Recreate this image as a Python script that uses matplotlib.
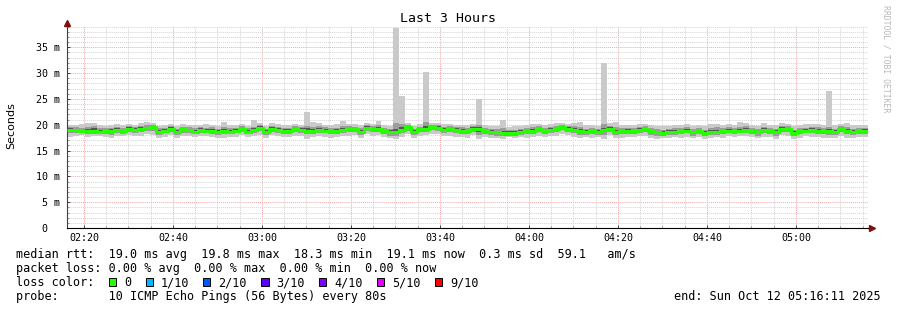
import matplotlib
matplotlib.use("Agg")
import matplotlib.pyplot as plt
import matplotlib.dates as mdates
import matplotlib.ticker as mticker
from matplotlib.patches import Rectangle
import numpy as np
import pandas as pd

# ---------------- data (milliseconds) ----------------
start_time = "2025-10-12 02:16:11"
step_seconds = 80

med = [19.0,19.0,18.7,18.85,18.7,18.6,18.7,18.7,18.9,18.7,
       19.2,19.0,19.2,19.4,19.5,18.6,18.85,19.25,18.6,19.1,
       18.9,18.6,19.0,18.85,18.85,18.6,18.7,18.6,18.85,19.1,
       18.6,19.0,19.4,18.5,19.25,19.0,18.85,18.85,19.1,19.0,
       18.85,18.85,19.0,18.85,18.7,18.85,18.9,19.1,19.1,18.6,
       19.4,19.1,19.25,18.7,18.5,18.6,19.0,19.5,18.6,19.1,
       19.25,19.5,19.4,19.0,19.1,19.0,18.85,18.7,19.25,19.1,
       18.7,18.6,18.5,18.35,18.3,18.35,18.6,18.7,18.85,19.1,
       18.7,19.0,19.1,19.5,19.25,19.0,18.7,18.6,18.7,18.6,
       18.9,19.25,18.6,18.7,18.85,18.7,19.0,19.1,18.7,18.5,
       18.35,18.6,18.6,18.7,18.85,18.5,18.7,18.35,18.6,18.6,
       18.7,18.85,18.7,18.85,19.0,18.7,18.5,19.0,18.7,18.6,
       19.25,19.1,18.35,18.7,18.85,19.0,18.85,18.7,18.7,18.6,
       19.1,18.7,18.6,18.7,18.85]

hi1 = [20.0,19.9,20.1,20.3,20.4,20.0,19.8,19.9,20.2,19.9,
       20.1,20.0,20.3,20.5,20.4,19.8,19.9,20.2,19.8,20.1,
       20.0,19.9,20.0,20.1,20.0,19.8,20.6,19.9,20.0,20.2,
       19.8,20.9,20.4,19.8,20.3,20.1,20.0,19.9,20.2,20.0,
       22.5,20.6,20.3,20.0,19.9,20.1,20.8,20.2,20.1,19.9,
       20.4,20.2,20.7,19.9,19.8,38.7,25.6,20.4,19.8,20.2,
       30.1,20.4,20.3,20.2,20.1,20.0,20.0,19.9,20.2,25.0,
       19.9,19.8,19.7,20.9,19.6,19.7,19.8,19.9,20.1,20.2,
       20.0,20.1,20.3,20.4,20.2,20.3,20.5,19.9,19.9,19.8,
       32.0,20.3,20.5,19.9,20.0,19.9,20.2,20.2,19.9,19.8,
       19.7,19.8,19.9,20.0,20.1,19.8,20.0,19.7,20.1,20.2,
       19.9,20.1,19.9,20.6,20.4,20.0,19.8,20.4,20.0,19.9,
       20.3,20.2,19.7,20.0,20.1,20.2,20.1,19.9,26.6,19.9,
       20.2,20.4,20.0,19.9,20.0]

lo1 = [17.6,17.9,18.0,17.7,17.8,17.9,17.6,17.5,17.9,17.8,
       18.0,17.8,17.9,18.1,18.0,17.4,17.7,18.0,17.5,17.9,
       17.8,17.6,17.9,17.8,17.7,17.4,17.5,17.6,17.7,18.0,
       17.6,17.9,18.0,17.4,18.0,17.8,17.7,17.6,17.8,17.9,
       17.3,17.6,17.8,17.7,17.5,17.7,17.8,17.9,18.0,17.5,
       18.1,17.9,18.0,17.6,17.4,17.3,17.6,18.1,17.5,17.9,
       18.0,18.2,18.1,17.8,17.9,17.7,17.6,17.5,18.0,17.2,
       17.6,17.4,17.5,17.3,17.6,17.5,17.6,17.5,17.7,17.9,
       17.6,17.9,17.8,18.2,18.0,17.7,17.5,17.6,17.5,17.6,
       17.3,18.0,17.5,17.4,17.7,17.6,17.9,17.8,17.4,17.3,
       17.4,17.5,17.6,17.5,17.7,17.4,17.6,17.3,17.5,17.6,
       17.5,17.8,17.6,17.8,17.9,17.6,17.5,17.7,17.6,17.3,
       18.0,17.9,17.2,17.5,17.8,17.7,17.6,17.4,17.5,17.5,
       17.9,17.5,17.4,17.6,17.6]

hi2 = [19.6,19.5,19.4,19.6,19.8,19.3,19.3,19.4,19.6,19.3,
       19.7,19.5,19.8,19.9,20.0,19.3,19.4,19.8,19.2,19.6,
       19.5,19.3,19.5,19.4,19.5,19.2,19.6,19.3,19.4,19.7,
       19.3,19.6,20.0,19.2,19.8,19.5,19.4,19.4,19.7,19.5,
       19.8,19.6,19.7,19.5,19.3,19.4,19.7,19.7,19.6,19.3,
       19.9,19.7,19.9,19.3,19.2,20.3,20.1,20.0,19.2,19.6,
       20.5,20.0,19.9,19.6,19.7,19.5,19.5,19.3,19.8,19.9,
       19.3,19.2,19.1,19.3,19.0,19.0,19.2,19.3,19.5,19.7,
       19.3,19.6,19.7,20.0,19.8,19.7,19.6,19.2,19.3,19.2,
       20.1,19.8,19.6,19.3,19.4,19.3,19.6,19.7,19.3,19.1,
       19.0,19.2,19.3,19.4,19.5,19.1,19.4,19.0,19.3,19.5,
       19.3,19.5,19.3,19.6,19.7,19.4,19.1,19.6,19.3,19.2,
       19.8,19.7,19.0,19.3,19.4,19.6,19.5,19.3,19.6,19.2,
       19.7,19.5,19.2,19.3,19.4]

lo2 = [18.3,18.4,18.3,18.2,18.1,18.2,18.2,18.0,18.4,18.2,
       18.6,18.4,18.5,18.7,18.8,18.0,18.3,18.6,18.0,18.4,
       18.3,18.1,18.4,18.3,18.2,18.0,18.1,18.1,18.3,18.5,
       18.1,18.4,18.7,18.0,18.6,18.4,18.2,18.2,18.5,18.4,
       18.1,18.2,18.4,18.3,18.1,18.2,18.3,18.5,18.5,18.0,
       18.8,18.5,18.6,18.1,17.9,17.9,18.3,18.8,18.0,18.5,
       18.6,18.9,18.8,18.4,18.5,18.4,18.2,18.1,18.6,18.0,
       18.1,18.0,17.9,17.8,17.8,17.8,18.0,18.1,18.2,18.5,
       18.1,18.4,18.5,18.9,18.6,18.4,18.0,18.0,18.1,18.0,
       18.0,18.6,18.0,18.1,18.2,18.1,18.4,18.5,18.0,17.9,
       17.8,18.0,18.0,18.1,18.3,17.9,18.1,17.8,18.0,18.0,
       18.1,18.3,18.1,18.3,18.4,18.1,17.9,18.4,18.1,17.9,
       18.6,18.5,17.8,18.1,18.3,18.4,18.2,18.1,18.0,18.0,
       18.5,18.1,18.0,18.1,18.2]

hi3 = [19.3,19.2,19.0,19.2,19.3,19.0,19.0,19.1,19.3,19.0,
       19.5,19.3,19.5,19.6,19.7,19.0,19.2,19.5,18.9,19.4,
       19.2,19.0,19.3,19.2,19.2,18.9,19.1,19.0,19.2,19.4,
       19.0,19.3,19.7,18.9,19.5,19.3,19.2,19.2,19.4,19.3,
       19.3,19.2,19.4,19.2,19.0,19.2,19.3,19.4,19.4,19.0,
       19.7,19.4,19.6,19.0,18.9,19.2,19.5,19.8,18.9,19.4,
       19.7,19.8,19.7,19.3,19.4,19.3,19.2,19.0,19.6,19.5,
       19.0,18.9,18.8,18.8,18.7,18.7,18.9,19.0,19.2,19.4,
       19.0,19.3,19.4,19.8,19.5,19.4,19.1,18.9,19.0,18.9,
       19.4,19.6,19.0,19.0,19.2,19.0,19.3,19.4,19.0,18.8,
       18.7,18.9,18.9,19.0,19.2,18.8,19.0,18.7,18.9,19.0,
       19.0,19.2,19.0,19.2,19.3,19.0,18.8,19.3,19.0,18.9,
       19.6,19.4,18.7,19.0,19.2,19.3,19.2,19.0,19.1,18.9,
       19.4,19.1,18.9,19.0,19.2]

lo3 = [18.6,18.7,18.5,18.5,18.4,18.4,18.4,18.3,18.6,18.4,
       18.9,18.7,18.9,19.0,19.1,18.3,18.6,18.9,18.3,18.8,
       18.6,18.4,18.7,18.6,18.5,18.3,18.4,18.3,18.6,18.8,
       18.4,18.7,19.0,18.2,18.9,18.7,18.5,18.5,18.8,18.7,
       18.5,18.5,18.7,18.6,18.4,18.5,18.6,18.8,18.8,18.3,
       19.1,18.8,18.9,18.4,18.2,18.3,18.7,19.2,18.3,18.8,
       18.9,19.2,19.1,18.7,18.8,18.7,18.5,18.4,18.9,18.6,
       18.4,18.3,18.2,18.0,18.0,18.0,18.3,18.4,18.5,18.8,
       18.4,18.7,18.8,19.2,18.9,18.7,18.4,18.3,18.4,18.3,
       18.5,18.9,18.3,18.4,18.5,18.4,18.7,18.8,18.4,18.2,
       18.0,18.3,18.3,18.4,18.5,18.2,18.4,18.1,18.3,18.3,
       18.4,18.5,18.4,18.5,18.7,18.4,18.2,18.7,18.4,18.3,
       18.9,18.8,18.0,18.4,18.5,18.7,18.5,18.4,18.4,18.3,
       18.8,18.4,18.3,18.4,18.5]

ytick_values = [0, 5, 10, 15, 20, 25, 30, 35]
ytick_labels = ["0  ", "5 m", "10 m", "15 m", "20 m", "25 m", "30 m", "35 m"]

title = "Last 3 Hours"
ylabel = "Seconds"
watermark = "RRDTOOL / TOBI OETIKER"
line_rtt = "median rtt:  19.0 ms avg  19.8 ms max  18.3 ms min  19.1 ms now  0.3 ms sd  59.1   am/s"
line_loss = "packet loss: 0.00 % avg  0.00 % max  0.00 % min  0.00 % now"
line_color_head = "loss color:"
loss_labels = ["0", "1/10", "2/10", "3/10", "4/10", "5/10", "9/10"]
loss_colors = ["#26ff00", "#00b8ff", "#0059ff", "#5e00ff", "#7e00ff", "#dd00ff", "#ff0000"]
line_probe = "probe:       10 ICMP Echo Pings (56 Bytes) every 80s"
line_end = "end: Sun Oct 12 05:16:11 2025"

# ---------------- figure ----------------
W, H = 897, 310
fig = plt.figure(figsize=(W / 100, H / 100), dpi=100)
fig.patch.set_facecolor("white")

def fx(px):
    return px / W

def fy(py):
    return 1 - py / H

L, R, T, B = 67, 868, 26, 228
ax = fig.add_axes([fx(L), fy(B), (R - L) / W, (B - T) / H])
ax.set_facecolor("white")

n = len(med)
edges_dt = pd.date_range(start_time, periods=n + 1, freq=f"{step_seconds}s")
edges = mdates.date2num(edges_dt.to_pydatetime())

ax.stairs(hi1, edges, baseline=lo1, fill=True, color="#cacaca", lw=0, zorder=1)
ax.stairs(hi2, edges, baseline=lo2, fill=True, color="#9c9c9c", lw=0, zorder=1.1)
ax.stairs(hi3, edges, baseline=lo3, fill=True, color="#555555", lw=0, zorder=1.2)
ax.stairs(med, edges, baseline=None, color=loss_colors[0], lw=2.2, zorder=3)

ax.set_xlim(edges[0], edges[-1])
ax.set_ylim(0, 39.1)

ax.xaxis.set_major_locator(mdates.MinuteLocator(byminute=[0, 20, 40]))
ax.xaxis.set_minor_locator(mdates.MinuteLocator(byminute=range(0, 60, 5)))
ax.xaxis.set_major_formatter(mdates.DateFormatter("%H:%M"))
ax.set_yticks(ytick_values)
ax.set_yticklabels(ytick_labels)
ax.yaxis.set_minor_locator(mticker.MultipleLocator(1))

ax.set_axisbelow(True)
ax.grid(which="minor", color="#d4d4d4", linestyle=(0, (1, 1)), linewidth=0.7)
ax.grid(which="major", color="#f2a8a8", linestyle=(0, (1, 1)), linewidth=0.7)

mono = "DejaVu Sans Mono"
ax.tick_params(axis="both", which="major", direction="in", length=2.5, width=0.7,
               color="#404040", labelsize=7.2)
ax.tick_params(axis="both", which="minor", direction="in", length=1.5, width=0.6,
               color="#808080")
ax.tick_params(axis="x", which="major", pad=3.5)
ax.tick_params(axis="y", which="major", pad=5)
for lab in ax.get_xticklabels() + ax.get_yticklabels():
    lab.set_fontfamily(mono)

for s in ["top", "right"]:
    ax.spines[s].set_visible(False)
ax.spines["left"].set_color("#404040")
ax.spines["left"].set_linewidth(0.8)
ax.spines["bottom"].set_color("#000000")
ax.spines["bottom"].set_linewidth(0.8)

# axis arrows
ax.plot([0], [1 + 3.5 / (B - T)], marker="^", color="#7f1010", ms=4,
        transform=ax.transAxes, clip_on=False, zorder=6)
ax.plot([0, 0], [1, 1 + 2 / (B - T)], color="#404040", lw=0.8,
        transform=ax.transAxes, clip_on=False)
ax.plot([1 + 4 / (R - L)], [0], marker=">", color="#7f1010", ms=4,
        transform=ax.transAxes, clip_on=False, zorder=6)
ax.plot([1, 1 + 2 / (R - L)], [0, 0], color="#000000", lw=0.8,
        transform=ax.transAxes, clip_on=False)

# texts
fig.text(fx(448), fy(19), title, ha="center", va="center", fontsize=9.5,
         family=mono, color="black")
fig.text(fx(11), fy(126), ylabel, ha="center", va="center", rotation=90,
         fontsize=8, family="DejaVu Sans", color="black")
fig.text(fx(886), fy(5), watermark, ha="center", va="top", rotation=270,
         fontsize=5.9, family=mono, color="#b8b8b8")

fs = 8.45
fig.text(fx(16), fy(258.3), line_rtt, ha="left", va="baseline", fontsize=fs, family=mono)
fig.text(fx(16), fy(272.3), line_loss, ha="left", va="baseline", fontsize=fs, family=mono)
fig.text(fx(16), fy(286.2), line_color_head, ha="left", va="baseline", fontsize=fs, family=mono)
box_x = [108.7, 145.7, 203.0, 261.3, 319.0, 377.0, 435.0]
for bx, lab, col in zip(box_x, loss_labels, loss_colors):
    fig.add_artist(Rectangle((fx(bx), fy(285.7)), 7.3 / W, 8 / H,
                             transform=fig.transFigure, facecolor=col,
                             edgecolor="black", linewidth=0.7))
    fig.text(fx(bx + 15.3), fy(286.2), lab, ha="left", va="baseline",
             fontsize=fs, family=mono)
fig.text(fx(16), fy(300.2), line_probe, ha="left", va="baseline", fontsize=fs, family=mono)
fig.text(fx(880.5), fy(300.2), line_end, ha="right", va="baseline", fontsize=fs, family=mono)

fig.savefig("out.png", dpi=100, facecolor="white")
